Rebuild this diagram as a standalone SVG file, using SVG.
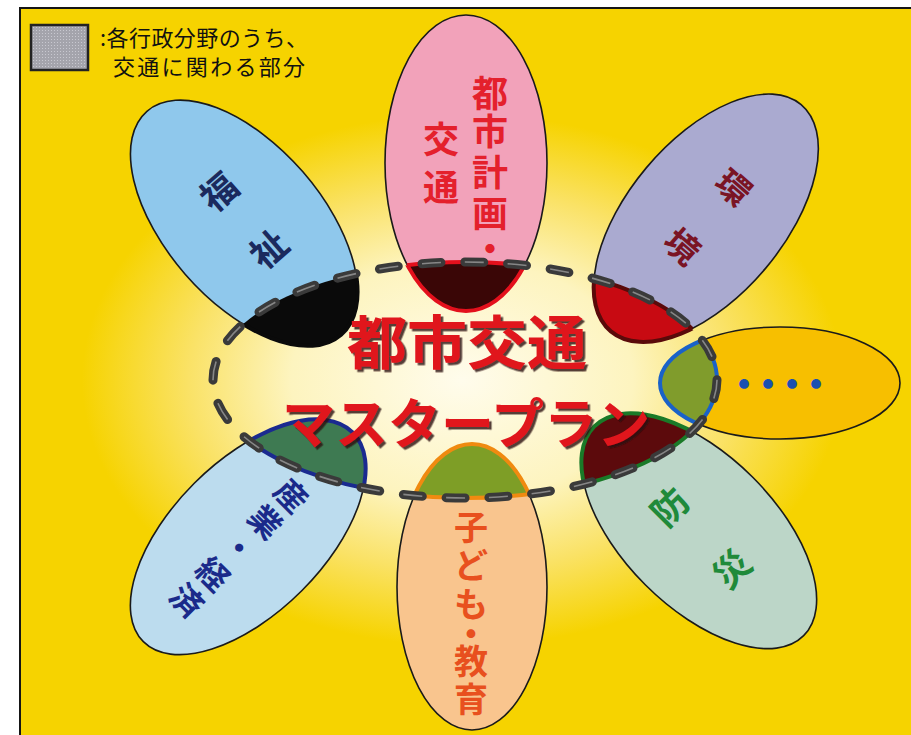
<svg xmlns="http://www.w3.org/2000/svg" xmlns:xlink="http://www.w3.org/1999/xlink" width="911" height="735" viewBox="0 0 911 735">
<style>
.jp{font-family:"Noto Sans CJK JP","Noto Sans CJK SC",sans-serif;}
.lbl{font-weight:700;dominant-baseline:central;text-anchor:middle;}
.petal{stroke:#1a1a1a;stroke-width:1.6;}
.ovl{stroke-width:4;}
.ring{fill:none;stroke-width:4;}
</style>
<defs>
<radialGradient id="bg" gradientUnits="userSpaceOnUse" cx="462" cy="380" r="380" gradientTransform="translate(462 380) scale(1 0.7) translate(-462 -380)">
<stop offset="0" stop-color="#fffcec"/>
<stop offset="0.45" stop-color="#fdf4bf"/>
<stop offset="0.72" stop-color="#fae266"/>
<stop offset="1" stop-color="#f6d300"/>
</radialGradient>
<pattern id="grid" width="3" height="3" patternUnits="userSpaceOnUse"><rect width="3" height="3" fill="#a4a4ac"/><rect width="1" height="1" fill="#c8c8d0"/></pattern>
<filter id="sh" x="-10%" y="-10%" width="120%" height="130%"><feDropShadow dx="2.5" dy="2.5" stdDeviation="0.6" flood-color="#2a0a08" flood-opacity="0.8"/></filter>
<ellipse id="ec" cx="465" cy="380" rx="252" ry="118"/>
<ellipse id="e1" cx="466" cy="163" rx="81" ry="148"/>
<ellipse id="e2" rx="78" ry="148" transform="translate(244 223) rotate(-41)"/>
<ellipse id="e3" rx="78" ry="148" transform="translate(706 218) rotate(40)"/>
<ellipse id="e4" cx="780" cy="383" rx="120" ry="56"/>
<ellipse id="e5" rx="76" ry="148" transform="translate(699 531) rotate(-45)"/>
<ellipse id="e6" cx="472" cy="587" rx="75" ry="143"/>
<ellipse id="e7" rx="76" ry="148" transform="translate(248 537) rotate(45)"/>
<clipPath id="cc"><use xlink:href="#ec"/></clipPath>
<clipPath id="c1"><use xlink:href="#e1"/></clipPath>
<clipPath id="c2"><use xlink:href="#e2"/></clipPath>
<clipPath id="c3"><use xlink:href="#e3"/></clipPath>
<clipPath id="c4"><use xlink:href="#e4"/></clipPath>
<clipPath id="c5"><use xlink:href="#e5"/></clipPath>
<clipPath id="c6"><use xlink:href="#e6"/></clipPath>
<clipPath id="c7"><use xlink:href="#e7"/></clipPath>
</defs>

<rect width="911" height="735" fill="#ffffff"/>
<rect x="20" y="8" width="900" height="740" fill="url(#bg)" stroke="#151515" stroke-width="2"/>

<g id="legend">
<rect x="31" y="25" width="57" height="45" fill="url(#grid)" stroke="#222" stroke-width="2.5"/>
<text class="jp" x="100" y="46" font-size="22" fill="#111" textLength="208">:各行政分野のうち、</text>
<text class="jp" x="113" y="75" font-size="22" fill="#111" textLength="192">交通に関わる部分</text>
</g>

<g id="toshikeikaku">
<use xlink:href="#e1" class="petal" fill="#f2a2ba"/>
<g clip-path="url(#cc)"><use xlink:href="#e1" class="ovl" fill="#3a0606" stroke="#e3101c"/></g>
<g clip-path="url(#c1)"><use xlink:href="#ec" class="ring" stroke="#e3101c"/></g>
<text class="jp lbl" font-size="36" fill="#e4202c" x="490 490 490 490 490" y="91 129 170 211 247">都市計画・</text>
<text class="jp lbl" font-size="36" fill="#e4202c" x="441 441" y="137 185">交通</text>
</g>

<g id="fukushi">
<use xlink:href="#e2" class="petal" fill="#8fc8ec"/>
<g clip-path="url(#cc)"><use xlink:href="#e2" class="ovl" fill="#0a0a0a" stroke="#0a0a0a"/></g>
<g transform="translate(242 218.5) rotate(-41)"><text class="jp lbl" font-size="36" fill="#1b2a5e" x="0 0" y="-38 38">福祉</text></g>
</g>

<g id="kankyo">
<use xlink:href="#e3" class="petal" fill="#aaaad0"/>
<g clip-path="url(#cc)"><use xlink:href="#e3" class="ovl" fill="#c80a12" stroke="#5a0a0a"/></g>
<g clip-path="url(#c3)"><use xlink:href="#ec" class="ring" stroke="#5a0a0a"/></g>
<g transform="translate(709 215.5) rotate(41)"><text class="jp lbl" font-size="34" fill="#7a1424" x="0 0" y="-39 39">環境</text></g>
</g>

<g id="sonota">
<use xlink:href="#e4" class="petal" fill="#f7bf00"/>
<g clip-path="url(#cc)"><use xlink:href="#e4" class="ovl" fill="#809c2c" stroke="#1a62c8"/></g>
<g clip-path="url(#c4)"><use xlink:href="#ec" class="ring" stroke="#1a62c8"/></g>
<text class="jp lbl" font-size="38" fill="#1a50b0" x="744 768 792 816" y="381 381 381 381">・・・・</text>
</g>

<g id="bousai">
<use xlink:href="#e5" class="petal" fill="#bcd6c8"/>
<g clip-path="url(#cc)"><use xlink:href="#e5" class="ovl" fill="#5c0a0c" stroke="#1a7a28"/></g>
<g clip-path="url(#c5)"><use xlink:href="#ec" class="ring" stroke="#1a7a28"/></g>
<g transform="translate(699 536) rotate(-45)"><text class="jp lbl" font-size="36" fill="#1f8a3a" x="0 0" y="-44 44">防災</text></g>
</g>

<g id="kodomo">
<use xlink:href="#e6" class="petal" fill="#f9c58e"/>
<g clip-path="url(#cc)"><use xlink:href="#e6" class="ovl" fill="#7e9e26" stroke="#f08a10"/></g>
<g clip-path="url(#c6)"><use xlink:href="#ec" class="ring" stroke="#f08a10"/></g>
<text class="jp lbl" font-size="34" fill="#e8501e" x="471 471 471 471 471 471" y="525 563 602 632 659 697">子ども・教育</text>
</g>

<g id="sangyo">
<use xlink:href="#e7" class="petal" fill="#bcdcee"/>
<g clip-path="url(#cc)"><use xlink:href="#e7" class="ovl" fill="#3e7a52" stroke="#1a2a90"/></g>
<g clip-path="url(#c7)"><use xlink:href="#ec" class="ring" stroke="#1a2a90"/></g>
<g transform="translate(240.5 546.5) rotate(45)"><text class="jp lbl" font-size="32" fill="#1a2a8a" x="0 0 0 0 0" y="-74 -37 0 37 74">産業・経済</text></g>
</g>

<g id="connectors">
<use xlink:href="#ec" fill="none" stroke="#3a3a3a" stroke-width="9" stroke-linecap="round" stroke-dasharray="19 23.86" pathLength="1200"/>
<use xlink:href="#ec" fill="none" stroke="#9a9a9a" stroke-width="1.6" stroke-dasharray="19 23.86" pathLength="1200" stroke-opacity="0.8"/>
</g>

<g id="title" filter="url(#sh)">
<text class="jp lbl" font-size="58" fill="#e0141e" x="467" y="339" textLength="240" lengthAdjust="spacingAndGlyphs">都市交通</text>
<text class="jp lbl" font-size="54" fill="#e0141e" x="466" y="420" textLength="368" lengthAdjust="spacingAndGlyphs">マスタープラン</text>
</g>
</svg>
